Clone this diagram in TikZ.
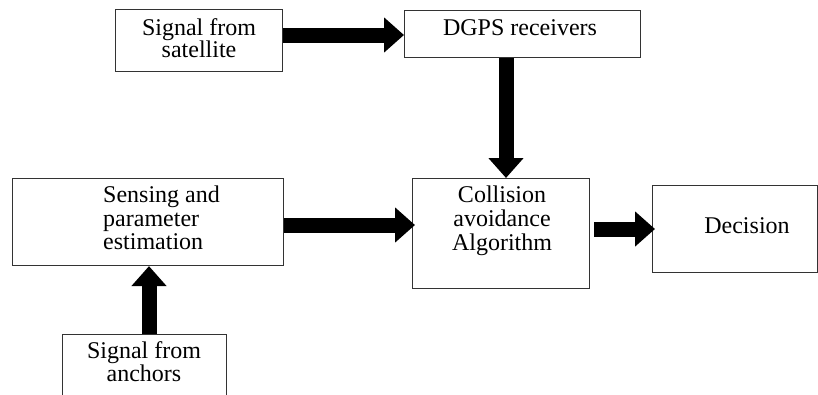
\documentclass[tikz,border=0pt]{standalone}
\usepackage{fontspec}
\setmainfont{Liberation Serif}
\usetikzlibrary{arrows.meta}
\begin{document}
\begin{tikzpicture}[x=1pt,y=-1pt,
  box/.style={draw=black!80, line width=1.1pt, inner sep=0pt, anchor=north west},
  lbl/.style={font=\fontsize{24}{24}\selectfont, inner sep=0pt, anchor=base},
  fat/.style={line width=15pt, -{Triangle[width=34pt,length=20pt]}}]
\useasboundingbox (0,0) rectangle (818,394);
% boxes
\node[box, minimum width=167pt, minimum height=62pt] (sat) at (115,9) {};
\node[box, minimum width=236pt, minimum height=47pt] (dgps) at (404,10) {};
\node[box, minimum width=271pt, minimum height=87pt] (sense) at (12,178) {};
\node[box, minimum width=177pt, minimum height=110pt] (col) at (412,178) {};
\node[box, minimum width=165pt, minimum height=87pt] (dec) at (652,185) {};
\node[box, minimum width=164pt, minimum height=80pt] (anc) at (62,334) {};
% labels
\node[lbl] (t1a) at (199,35) {Signal from};
\node[lbl] (t1b) at (199,57) {satellite};
\node[lbl] (t2) at (520,35) {DGPS receivers};
\node[lbl, anchor=base west] (t3a) at (103,202) {Sensing and};
\node[lbl, anchor=base west] (t3b) at (103,226) {parameter};
\node[lbl, anchor=base west] (t3c) at (103,249) {estimation};
\node[lbl] (t4a) at (502,202) {Collision};
\node[lbl] (t4b) at (502,226) {avoidance};
\node[lbl] (t4c) at (502,250) {Algorithm};
\node[lbl] (t5) at (747,233) {Decision};
\node[lbl] (t6a) at (144,358) {Signal from};
\node[lbl] (t6b) at (144,381) {anchors};
% connectors
\draw[fat] (sat.east |- 0,35) -- (dgps.west |- 0,35);
\draw[fat] (dgps.south -| 506,0) -- (col.north -| 506,0);
\draw[fat] (sense.east |- 0,225) -- ([xshift=3pt]col.west |- 0,225);
\draw[fat] ([xshift=4pt]col.east |- 0,229) -- ([xshift=3pt]dec.west |- 0,229);
\draw[fat] (anc.north -| 149,0) -- (sense.south -| 149,0);
\end{tikzpicture}
\end{document}
